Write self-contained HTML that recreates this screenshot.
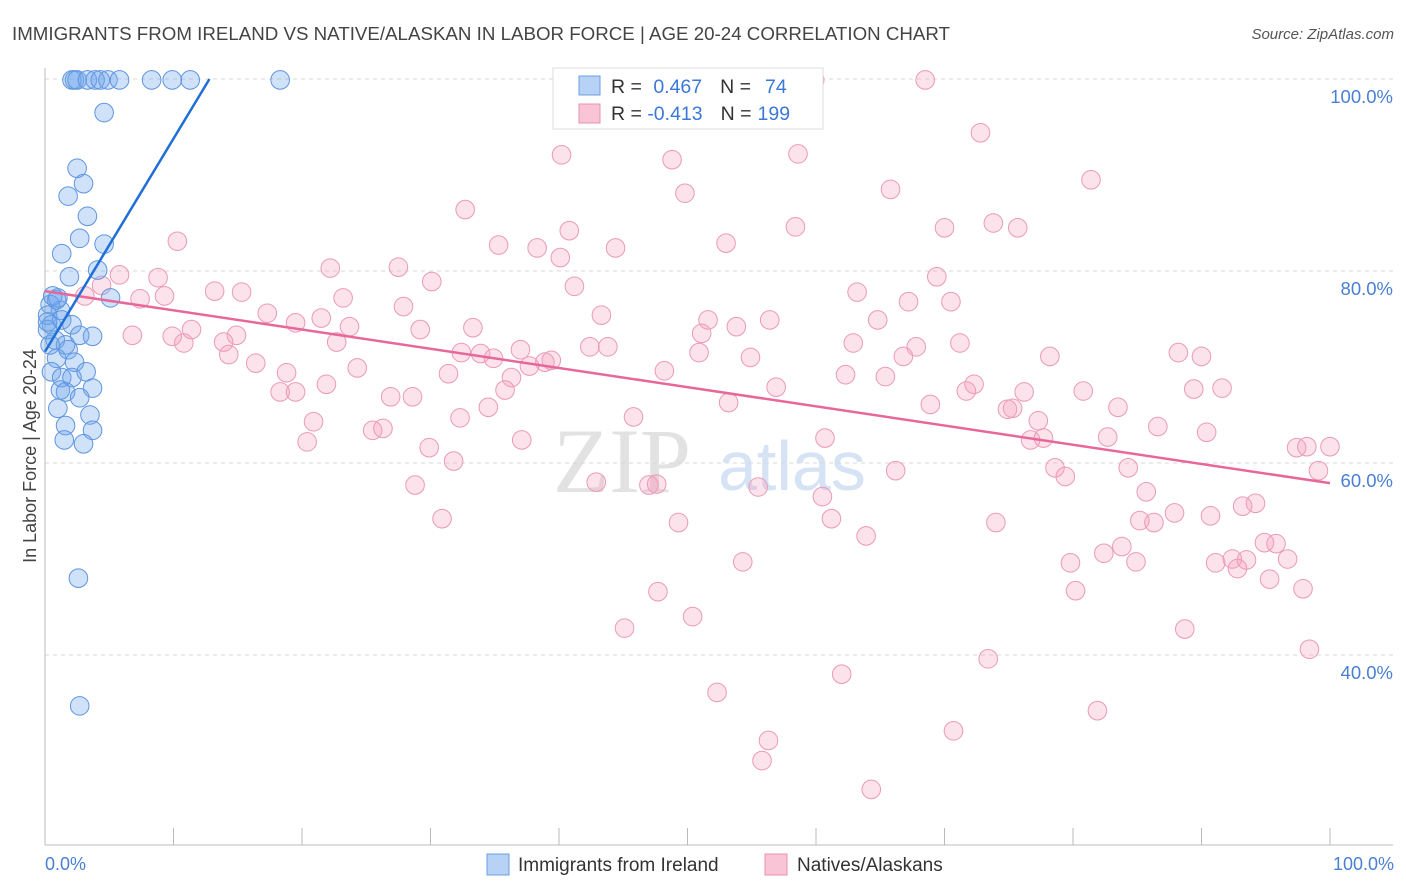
<!DOCTYPE html>
<html><head><meta charset="utf-8"><style>
html,body{margin:0;padding:0;background:#fff;}
svg{display:block;font-family:"Liberation Sans",sans-serif;}
</style></head><body>
<svg id="chart" width="1406" height="892" viewBox="0 0 1406 892">
<text x="12" y="40" font-size="18" fill="#444" textLength="938" lengthAdjust="spacingAndGlyphs">IMMIGRANTS FROM IRELAND VS NATIVE/ALASKAN IN LABOR FORCE | AGE 20-24 CORRELATION CHART</text>
<text x="1394" y="39" font-size="15" fill="#555" font-style="italic" text-anchor="end">Source: ZipAtlas.com</text>
<g>
<text x="553" y="492" font-size="92" fill="#e2e2e2" font-family="Liberation Serif,serif">ZIP</text>
<text x="718" y="490" font-size="70" fill="#d5e3f5">atlas</text>
</g>
<g id="grid"></g>
<g id="axes"></g>
<g id="pink"></g>
<g id="blue"></g>
<g id="trends"></g>
<text x="36" y="456" font-size="18" fill="#444" text-anchor="middle" transform="rotate(-90 36 456)">In Labor Force | Age 20-24</text>
<text x="45" y="870" font-size="18" fill="#4a7fd4">0.0%</text>
<text x="1394" y="870" font-size="18" fill="#4a7fd4" text-anchor="end">100.0%</text>
<g>
<rect x="553" y="68" width="270" height="61" fill="#fff" stroke="#ddd"/>
<rect x="579" y="76" width="21" height="19" fill="#b7d2f5" stroke="#6a9fe0"/>
<rect x="579" y="104" width="21" height="19" fill="#f9c5d6" stroke="#e890b0"/>
<text x="611" y="93" font-size="19.5" fill="#333">R = <tspan fill="#3b78d8" dx="6">0.467</tspan><tspan dx="18">N =</tspan><tspan fill="#3b78d8" dx="14">74</tspan></text>
<text x="611" y="120" font-size="19.5" fill="#333">R = <tspan fill="#3b78d8">-0.413</tspan><tspan dx="18">N =</tspan><tspan fill="#3b78d8" dx="6">199</tspan></text>
</g>
<g>
<rect x="487" y="854" width="22" height="21" fill="#b7d2f5" stroke="#6a9fe0"/>
<text x="518" y="871" font-size="19" fill="#333">Immigrants from Ireland</text>
<rect x="765" y="854" width="22" height="21" fill="#f9c5d6" stroke="#e890b0"/>
<text x="797" y="871" font-size="19" fill="#333">Natives/Alaskans</text>
</g>
</svg>
<script>
const yTicks = [100, 80, 60, 40];
const yTickLabels = ["100.0%", "80.0%", "60.0%", "40.0%"];
const xTicks = [0,10,20,30,40,50,60,70,80,90,100];
const blueX = [2.1,2.3,2.5,3.3,3.9,4.3,4.9,5.8,8.3,9.9,11.3,18.3,4.6,2.5,3.0,1.8,3.3,2.7,4.6,1.3,1.9,4.1,5.1,0.9,1.2,0.4,0.2,0.5,1.3,2.1,0.8,1.6,2.7,3.7,0.4,0.9,1.8,2.3,0.5,1.3,3.2,2.1,1.2,1.6,3.7,2.7,1.0,3.5,3.7,1.6,1.5,3.0,2.6,2.7,0.2,0.6,0.2,1.0];
const blueY = [99.9,99.9,99.9,99.9,99.9,99.9,99.9,99.9,99.9,99.9,99.9,99.9,96.5,90.7,89.1,87.8,85.7,83.4,82.8,81.8,79.4,80.1,77.2,77.0,75.9,76.5,75.4,74.4,74.9,74.4,72.8,72.3,73.3,73.2,72.3,70.9,71.8,70.5,69.5,68.9,69.5,68.9,67.6,67.4,67.8,66.8,65.7,65.0,63.4,63.9,62.4,62.0,48.0,34.7,73.9,77.4,74.7,77.2];
const pinkX = [59.9,68.5,46.3,72.8,40.2,48.8,58.6,81.4,49.8,65.8,
32.7,10.3,40.8,35.3,38.3,44.4,53.0,58.4,70.0,73.8,
75.7,40.1,22.2,27.5,5.8,8.8,30.1,41.2,69.4,4.4,
3.1,7.4,9.3,13.2,15.3,23.2,63.2,67.2,70.5,27.9,
43.3,51.6,64.8,17.3,19.5,21.5,23.7,29.2,33.3,53.8,
6.8,9.9,11.4,14.9,10.8,13.9,22.7,51.1,56.4,32.4,
33.9,34.9,37.0,38.9,39.4,42.4,43.8,50.9,54.9,62.9,
67.8,66.8,71.2,78.2,88.2,90.0,14.3,16.4,24.3,31.4,
37.7,36.3,48.2,62.3,65.4,72.3,71.7,56.9,76.2,80.8,
89.4,91.6,18.8,18.3,19.5,21.9,26.9,28.6,35.8,53.2,
68.9,74.9,75.3,83.5,34.5,32.3,20.9,45.8,77.3,86.6,
20.4,25.5,26.3,37.1,60.7,76.7,82.7,77.7,29.9,31.8,
90.4,97.4,100,98.2,99.1,78.6,84.3,79.4,66.2,28.8,
42.9,47.0,47.6,55.5,60.5,85.7,94.2,93.2,30.9,49.3,
61.2,74.0,85.2,86.3,87.9,90.7,63.9,83.8,82.4,79.8,
84.9,54.3,91.1,92.4,93.5,94.9,95.8,96.7,92.8,95.3,
97.9,47.7,80.2,45.1,50.4,88.7,98.4,73.4,52.3,62.0,
81.9,70.7,56.3,55.8,64.3];
const pinkY = [99.9,99.9,96.5,94.4,92.1,91.6,92.2,89.5,88.1,88.5,
86.4,83.1,84.2,82.7,82.4,82.4,82.9,84.6,84.5,85.0,
84.5,81.4,80.3,80.4,79.6,79.3,78.9,78.4,79.4,78.5,
77.4,77.1,77.4,77.9,77.8,77.2,77.8,76.8,76.8,76.3,
75.4,74.9,74.9,75.6,74.6,75.1,74.2,73.9,74.1,74.2,
73.3,73.2,73.9,73.3,72.5,72.6,72.6,73.5,74.9,71.5,
71.4,70.9,71.8,70.5,70.7,72.1,72.1,71.5,71.0,72.5,
72.1,71.1,72.5,71.1,71.5,71.1,71.3,70.4,69.9,69.3,
70.1,68.9,69.6,69.2,69.0,68.2,67.5,67.9,67.4,67.5,
67.7,67.8,69.4,67.4,67.4,68.2,66.9,66.9,67.6,66.3,
66.1,65.6,65.7,65.8,65.8,64.7,64.3,64.8,64.4,63.8,
62.2,63.4,63.6,62.4,62.6,62.4,62.7,62.6,61.6,60.2,
63.2,61.6,61.7,61.7,59.2,59.5,59.5,58.6,59.2,57.7,
58.0,57.7,57.8,57.5,56.5,57.0,55.8,55.5,54.2,53.8,
54.2,53.8,54.0,53.8,54.8,54.5,52.4,51.3,50.6,49.6,
49.7,49.7,49.6,50.0,49.9,51.7,51.6,50.0,49.0,47.9,
46.9,46.6,46.7,42.8,44.0,42.7,40.6,39.6,36.1,38.0,
34.2,32.1,31.1,29.0,26.0];
const blueTrend = [[0, 71.6], [12.8, 100]];
const pinkTrend = [[0, 77.9], [100, 57.9]];

const NS = "http://www.w3.org/2000/svg";
const X0 = 45, X1 = 1330, YBOT = 845;
function sx(v){ return X0 + (X1 - X0) * v / 100; }
function sy(v){ return 1039 - 9.6 * v; }
function mk(tag, attrs, parent){
  const e = document.createElementNS(NS, tag);
  for (const k in attrs) e.setAttribute(k, attrs[k]);
  parent.appendChild(e);
  return e;
}
const grid = document.getElementById('grid');
const axes = document.getElementById('axes');
yTicks.forEach((t, i) => {
  const l = mk('line', {x1: X0, x2: 1393, y1: sy(t), y2: sy(t), stroke: '#d8d8d8', 'stroke-dasharray': '4,4'}, grid);
  
  
  const tx = mk('text', {x: 1393, y: sy(t) + 24, 'font-size': 18.5, fill: '#4a7fd4', 'text-anchor': 'end'}, axes);
  tx.textContent = yTickLabels[i];
  
  
});
const ax = mk('line', {x1: X0, x2: 1393, y1: YBOT, y2: YBOT, stroke: '#bbb'}, axes);


const ay = mk('line', {x1: X0, x2: X0, y1: 68, y2: YBOT, stroke: '#bbb'}, axes);


xTicks.forEach(t => {
  const l = mk('line', {x1: sx(t), x2: sx(t), y1: 828, y2: YBOT, stroke: '#bbb'}, axes);
  
  
});
const pg = document.getElementById('pink');
pinkX.forEach((v, i) => {
  const c = mk('circle', {cx: sx(v), cy: sy(pinkY[i]), r: 9.3, fill: 'rgba(245,160,190,0.3)', stroke: '#eb9ab8', 'stroke-width': 1}, pg);
  
  
});
const bg = document.getElementById('blue');
blueX.forEach((v, i) => {
  const c = mk('circle', {cx: sx(v), cy: sy(blueY[i]), r: 9.3, fill: 'rgba(110,165,235,0.32)', stroke: '#5f95df', 'stroke-width': 1}, bg);
  
  
});
const tg = document.getElementById('trends');
const pl = mk('line', {x1: sx(pinkTrend[0][0]), y1: sy(pinkTrend[0][1]), x2: sx(pinkTrend[1][0]), y2: sy(pinkTrend[1][1]), stroke: '#e8679a', 'stroke-width': 2.5}, tg);


const bl = mk('line', {x1: sx(blueTrend[0][0]), y1: sy(blueTrend[0][1]), x2: sx(blueTrend[1][0]), y2: sy(blueTrend[1][1]), stroke: '#1f6fd6', 'stroke-width': 2.5}, tg);


</script>
</body></html>
